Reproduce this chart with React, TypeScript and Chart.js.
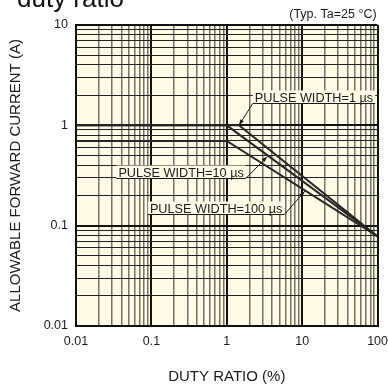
import { useEffect, useRef } from 'react';
import { Chart, registerables } from 'chart.js';

Chart.register(...registerables);

const FONT = "'Liberation Sans', Arial, Helvetica, sans-serif";
const BG = '#fffbe6';

const TITLE = 'duty ratio';
const NOTE = '(Typ. Ta=25 °C)';
const X_TITLE = 'DUTY RATIO (%)';
const Y_TITLE = 'ALLOWABLE FORWARD CURRENT (A)';

const X_DECADES = [0.01, 0.1, 1, 10, 100];
const X_TICK_LABELS = ['0.01', '0.1', '1', '10', '100'];
const Y_DECADES = [0.01, 0.1, 1, 10];
const Y_TICK_LABELS = ['0.01', '0.1', '1', '10'];
const MINOR_STEPS = [1, 2, 3, 4, 5, 6, 7, 8, 9];

const SERIES_NAMES = ['PULSE WIDTH=1 µs', 'PULSE WIDTH=10 µs', 'PULSE WIDTH=100 µs'];
const DUTY_1US = [0.01, 1.45, 100];
const IF_1US = [1, 1, 0.078];
const DUTY_10US = [0.01, 1, 100];
const IF_10US = [1, 1, 0.078];
const DUTY_100US = [0.01, 1, 100];
const IF_100US = [0.7, 0.7, 0.078];

// label annotations in data coordinates
const LABEL_X = [2.35, 0.0365, 0.0955];
const LABEL_Y = [1.67, 0.296, 0.1306];
const LEADER_FROM = ['left', 'right', 'right'];
const TARGET_X = [1.45, 3.45, 10.8];
const TARGET_Y = [1.0, 0.49, 0.22];

const buildTicks = (decades: number[]) => {
  const out: { value: number }[] = [];
  decades.forEach((d, i) => {
    if (i === decades.length - 1) {
      out.push({ value: d });
    } else {
      MINOR_STEPS.forEach((m) => out.push({ value: +(d * m).toPrecision(6) }));
    }
  });
  return out;
};

const labelFor = (decades: number[], labels: string[]) => (v: number | string) => {
  const n = Number(v);
  const idx = decades.findIndex((d) => Math.abs(d - n) / d < 1e-6);
  return idx >= 0 ? labels[idx] : '';
};

const isDecade = (decades: number[], v: number) => decades.some((d) => Math.abs(d - v) / d < 1e-6);

const toPoints = (xs: number[], ys: number[]) => xs.map((x, i) => ({ x, y: ys[i] }));

const bgPlugin = {
  id: 'bg',
  beforeDraw(chart: any) {
    const { ctx, chartArea } = chart;
    ctx.save();
    ctx.fillStyle = '#ffffff';
    ctx.fillRect(0, 0, chart.width, chart.height);
    ctx.fillStyle = BG;
    ctx.fillRect(chartArea.left, chartArea.top, chartArea.right - chartArea.left, chartArea.bottom - chartArea.top);
    ctx.restore();
  },
};

const annotPlugin = {
  id: 'annot',
  afterDatasetsDraw(chart: any) {
    const { ctx } = chart;
    const x = chart.scales.x;
    const y = chart.scales.y;
    ctx.save();
    ctx.font = `12.7px ${FONT}`;
    SERIES_NAMES.forEach((name, i) => {
      const tx = x.getPixelForValue(LABEL_X[i]);
      const uy = Math.round(y.getPixelForValue(LABEL_Y[i])) + 0.5;
      const w = ctx.measureText(name).width;
      const left = tx - 2;
      const right = tx + w + 2;
      ctx.fillStyle = BG;
      ctx.fillRect(left, uy - 13, right - left, 13);
      ctx.fillStyle = '#1a1a1a';
      ctx.textAlign = 'left';
      ctx.textBaseline = 'alphabetic';
      ctx.fillText(name, tx, uy - 2);
      const sx = LEADER_FROM[i] === 'left' ? left : right;
      const ex = x.getPixelForValue(TARGET_X[i]);
      const ey = y.getPixelForValue(TARGET_Y[i]);
      ctx.strokeStyle = '#1a1a1a';
      ctx.lineWidth = 1;
      ctx.beginPath();
      ctx.moveTo(left, uy);
      ctx.lineTo(right, uy);
      ctx.moveTo(sx, uy);
      ctx.lineTo(ex, ey);
      ctx.stroke();
      const ang = Math.atan2(ey - uy, ex - sx);
      const L = 6;
      const W = 2;
      ctx.beginPath();
      ctx.moveTo(ex, ey);
      ctx.lineTo(ex - L * Math.cos(ang) + W * Math.sin(ang), ey - L * Math.sin(ang) - W * Math.cos(ang));
      ctx.lineTo(ex - L * Math.cos(ang) - W * Math.sin(ang), ey - L * Math.sin(ang) + W * Math.cos(ang));
      ctx.closePath();
      ctx.fill();
    });
    ctx.restore();
  },
  afterDraw(chart: any) {
    const { ctx, chartArea } = chart;
    ctx.save();
    ctx.fillStyle = '#111';
    ctx.textBaseline = 'alphabetic';
    ctx.textAlign = 'left';
    ctx.font = `26px ${FONT}`;
    ctx.fillText(TITLE, 17, 7);
    ctx.font = `12.5px ${FONT}`;
    ctx.textAlign = 'right';
    ctx.fillStyle = '#1a1a1a';
    ctx.fillText(NOTE, chartArea.right - 1, 18);
    ctx.restore();
  },
};

export default function App() {
  const ref = useRef<HTMLCanvasElement | null>(null);

  useEffect(() => {
    if (!ref.current) return;
    Chart.defaults.font.family = FONT;
    const lineStyle = {
      borderColor: '#262626',
      borderWidth: 2,
      pointRadius: 0,
      tension: 0,
      fill: false,
      showLine: true,
    };
    const chart = new Chart(ref.current, {
      type: 'line',
      data: {
        datasets: [
          { label: SERIES_NAMES[0], data: toPoints(DUTY_1US, IF_1US), ...lineStyle },
          { label: SERIES_NAMES[1], data: toPoints(DUTY_10US, IF_10US), ...lineStyle },
          { label: SERIES_NAMES[2], data: toPoints(DUTY_100US, IF_100US), ...lineStyle },
        ],
      },
      options: {
        responsive: false,
        animation: false,
        layout: { padding: { top: 25, right: 10, left: 0, bottom: 0 } },
        plugins: {
          legend: { display: false },
          tooltip: { enabled: false },
          title: { display: false },
        },
        scales: {
          x: {
            type: 'logarithmic',
            min: X_DECADES[0],
            max: X_DECADES[X_DECADES.length - 1],
            afterBuildTicks: (s: any) => {
              s.ticks = buildTicks(X_DECADES);
            },
            afterFit: (s: any) => {
              s.height = 61;
            },
            ticks: {
              autoSkip: false,
              maxRotation: 0,
              minRotation: 0,
              padding: 0,
              color: '#1a1a1a',
              font: { size: 12.5, family: FONT },
              callback: labelFor(X_DECADES, X_TICK_LABELS),
            },
            grid: {
              drawTicks: true,
              tickLength: 8,
              tickColor: 'rgba(0,0,0,0)',
              color: (c: any) => (isDecade(X_DECADES, c.tick?.value) ? '#111111' : '#777268'),
              lineWidth: (c: any) => (isDecade(X_DECADES, c.tick?.value) ? 2 : 1.5),
            },
            border: { display: true, color: '#111', width: 2 },
            title: {
              display: true,
              text: X_TITLE,
              color: '#1a1a1a',
              font: { size: 15, family: FONT },
              padding: { top: 0, bottom: 1 },
            },
          },
          y: {
            type: 'logarithmic',
            min: Y_DECADES[0],
            max: Y_DECADES[Y_DECADES.length - 1],
            afterBuildTicks: (s: any) => {
              s.ticks = buildTicks(Y_DECADES);
            },
            afterFit: (s: any) => {
              s.width = 76;
            },
            ticks: {
              autoSkip: false,
              padding: 8,
              color: '#1a1a1a',
              font: { size: 12.5, family: FONT },
              callback: labelFor(Y_DECADES, Y_TICK_LABELS),
            },
            grid: {
              drawTicks: false,
              color: (c: any) => (isDecade(Y_DECADES, c.tick?.value) ? '#111111' : '#222222'),
              lineWidth: (c: any) => (isDecade(Y_DECADES, c.tick?.value) ? 2 : 1),
            },
            border: { display: true, color: '#111', width: 2 },
            title: {
              display: true,
              text: Y_TITLE,
              color: '#1a1a1a',
              font: { size: 15, family: FONT },
              padding: { top: 7, bottom: 0 },
            },
          },
        },
      },
      plugins: [bgPlugin, annotPlugin],
    } as any);
    return () => chart.destroy();
  }, []);

  return (
    <div style={{ position: 'fixed', left: 0, top: 0, width: 388, height: 387, background: '#fff' }}>
      <canvas ref={ref} width={388} height={387} style={{ display: 'block' }} />
    </div>
  );
}
